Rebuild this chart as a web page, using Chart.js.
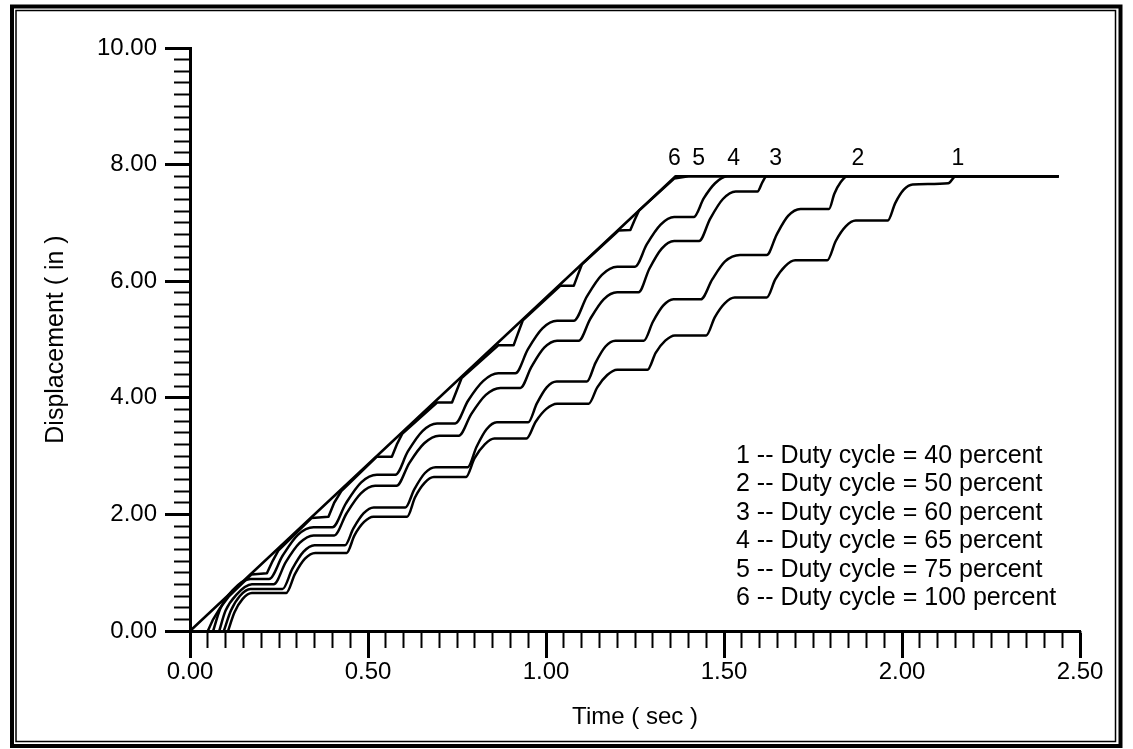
<!DOCTYPE html>
<html><head><meta charset="utf-8">
<script src="https://cdn.jsdelivr.net/npm/chart.js@4.4.1/dist/chart.umd.min.js"></script>
<style>html,body{margin:0;padding:0;background:#fff;}</style>
</head><body>
<canvas id="c" width="1133" height="749"></canvas>
<script>
// ---- data ----
const curveNumbers = ['1', '2', '3', '4', '5', '6'];
const dutyLabels = [
  '1 -- Duty cycle = 40 percent',
  '2 -- Duty cycle = 50 percent',
  '3 -- Duty cycle = 60 percent',
  '4 -- Duty cycle = 65 percent',
  '5 -- Duty cycle = 75 percent',
  '6 -- Duty cycle = 100 percent'
];
// [time (sec), displacement (in)]
const curve1 = [[0.107,0],[0.125,0.32],[0.148,0.55],[0.174,0.65],[0.27,0.65],[0.295,0.98],[0.323,1.24],[0.352,1.34],[0.44,1.34],[0.462,1.64],[0.489,1.87],[0.515,1.96],[0.61,1.96],[0.632,2.29],[0.659,2.54],[0.685,2.64],[0.775,2.64],[0.799,2.96],[0.828,3.20],[0.855,3.30],[0.945,3.30],[0.971,3.59],[1.001,3.81],[1.031,3.90],[1.12,3.90],[1.144,4.18],[1.172,4.39],[1.20,4.48],[1.285,4.48],[1.308,4.77],[1.335,4.98],[1.362,5.07],[1.45,5.07],[1.474,5.38],[1.502,5.62],[1.53,5.72],[1.62,5.72],[1.644,6.03],[1.672,6.26],[1.70,6.36],[1.79,6.36],[1.814,6.69],[1.842,6.94],[1.87,7.04],[1.96,7.04],[1.981,7.34],[2.005,7.57],[2.03,7.66],[2.13,7.68],[2.151,7.8],[2.44,7.8]];
const curve2 = [[0.095,0],[0.115,0.35],[0.14,0.6],[0.17,0.72],[0.26,0.72],[0.287,1.06],[0.319,1.36],[0.35,1.47],[0.435,1.47],[0.459,1.76],[0.488,2.02],[0.516,2.12],[0.605,2.12],[0.63,2.43],[0.66,2.71],[0.69,2.81],[0.78,2.81],[0.805,3.16],[0.833,3.46],[0.862,3.58],[0.95,3.58],[0.974,3.90],[1.002,4.18],[1.03,4.28],[1.115,4.28],[1.139,4.60],[1.167,4.88],[1.195,4.98],[1.275,4.98],[1.30,5.30],[1.329,5.58],[1.358,5.69],[1.435,5.69],[1.467,6.03],[1.503,6.34],[1.545,6.45],[1.62,6.45],[1.648,6.80],[1.68,7.12],[1.715,7.24],[1.795,7.24],[1.81,7.5],[1.828,7.7],[1.847,7.8],[2.44,7.8]];
const curve3 = [[0.082,0],[0.10,0.35],[0.13,0.62],[0.174,0.80],[0.235,0.80],[0.269,1.18],[0.308,1.51],[0.347,1.64],[0.405,1.64],[0.44,2.02],[0.48,2.36],[0.52,2.49],[0.58,2.49],[0.616,2.88],[0.658,3.22],[0.70,3.35],[0.755,3.35],[0.79,3.72],[0.831,4.05],[0.872,4.17],[0.928,4.17],[0.959,4.53],[0.995,4.86],[1.031,4.98],[1.092,4.98],[1.124,5.35],[1.162,5.69],[1.20,5.81],[1.26,5.81],[1.29,6.21],[1.325,6.56],[1.36,6.69],[1.43,6.69],[1.461,7.07],[1.497,7.41],[1.533,7.54],[1.594,7.54],[1.608,7.7],[1.62,7.8],[2.44,7.8]];
const curve4 = [[0.065,0],[0.085,0.38],[0.12,0.70],[0.17,0.89],[0.222,0.89],[0.26,1.29],[0.303,1.65],[0.347,1.78],[0.40,1.78],[0.438,2.19],[0.481,2.55],[0.525,2.68],[0.577,2.68],[0.612,3.08],[0.653,3.43],[0.694,3.56],[0.745,3.56],[0.781,3.95],[0.824,4.29],[0.866,4.42],[0.914,4.42],[0.949,4.83],[0.99,5.19],[1.031,5.32],[1.078,5.32],[1.115,5.74],[1.157,6.11],[1.20,6.25],[1.25,6.25],[1.283,6.63],[1.322,6.97],[1.36,7.10],[1.415,7.10],[1.443,7.42],[1.475,7.68],[1.509,7.8],[2.44,7.8]];
const curve5 = [[0.05,0],[0.065,0.2],[0.085,0.4],[0.11,0.6],[0.173,0.97],[0.216,0.99],[0.232,1.2],[0.248,1.38],[0.342,1.94],[0.389,1.96],[0.405,2.2],[0.425,2.4],[0.525,2.99],[0.567,2.99],[0.581,3.2],[0.596,3.38],[0.694,3.92],[0.736,3.92],[0.749,4.12],[0.763,4.34],[0.866,4.9],[0.909,4.9],[0.921,5.1],[0.935,5.33],[1.04,5.92],[1.078,5.92],[1.089,6.1],[1.101,6.29],[1.204,6.87],[1.237,6.88],[1.249,7.05],[1.261,7.21],[1.36,7.76],[1.40,7.8],[2.44,7.8]];
const curve6 = [[0,0],[1.364,7.8],[2.44,7.8]];
const curveLabelTimes = [2.157, 1.876, 1.645, 1.527, 1.429, 1.361];
const curves = [curve1, curve2, curve3, curve4, curve5, curve6];

// ---- chart ----
const FONT = "'Liberation Sans', Arial, Helvetica, sans-serif";
Chart.defaults.font.family = FONT;
Chart.defaults.color = '#000';

const framePlugin = {
  id: 'frame',
  afterDraw(chart) {
    const ctx = chart.ctx;
    ctx.save();
    ctx.strokeStyle = '#000';
    ctx.lineWidth = 4;
    ctx.strokeRect(12, 6.5, 1108.5, 739.5);
    ctx.lineWidth = 1.5;
    ctx.strokeRect(16, 10.5, 1099.5, 731);
    ctx.restore();
  }
};

const textPlugin = {
  id: 'texts',
  afterDatasetsDraw(chart) {
    const ctx = chart.ctx;
    const xs = chart.scales.x, ys = chart.scales.y;
    ctx.save();
    ctx.fillStyle = '#000';
    // curve numbers above the final plateau
    ctx.font = '23px ' + FONT;
    ctx.textAlign = 'center';
    ctx.textBaseline = 'alphabetic';
    curveNumbers.forEach((n, i) => {
      ctx.fillText(n, xs.getPixelForValue(curveLabelTimes[i]), ys.getPixelForValue(8.0));
    });
    // legend text block
    ctx.font = '25px ' + FONT;
    ctx.textAlign = 'left';
    ctx.textBaseline = 'middle';
    dutyLabels.forEach((t, i) => {
      ctx.fillText(t, 736, 456 + 28.5 * i);
    });
    ctx.restore();
  }
};

new Chart(document.getElementById('c'), {
  type: 'line',
  data: {
    datasets: curves.map((c, i) => ({
      label: dutyLabels[i],
      data: c.map(([x, y]) => ({x, y})),
      borderColor: '#000',
      borderWidth: 2.5,
      pointRadius: 0,
      fill: false,
      cubicInterpolationMode: i >= 4 ? 'default' : 'monotone',
      tension: 0,
      borderJoinStyle: 'round',
      clip: false
    }))
  },
  options: {
    responsive: false,
    animation: false,
    devicePixelRatio: 1,
    layout: { padding: { top: 48, right: 53, left: 0, bottom: 0 } },
    plugins: { legend: { display: false }, tooltip: { enabled: false } },
    scales: {
      x: {
        type: 'linear', position: 'bottom', weight: 1,
        min: 0, max: 2.5,
        afterFit: s => { s.height = 118; },
        border: { display: true, color: '#000', width: 3 },
        grid: { drawOnChartArea: false, drawTicks: true, tickLength: 27, tickWidth: 3, tickColor: '#000' },
        ticks: { stepSize: 0.5, padding: 0, color: '#000', font: { size: 24 }, maxRotation: 0, autoSkip: false,
                 callback: v => Number(v).toFixed(2) },
        title: { display: true, text: 'Time ( sec )', color: '#000', font: { size: 24 }, padding: { top: 0, bottom: 17 } }
      },
      x2: {
        type: 'linear', position: 'bottom', weight: 0,
        min: 0, max: 2.5,
        afterFit: s => { s.height = 0; },
        border: { display: false },
        grid: { drawOnChartArea: false, drawTicks: true, tickLength: 17, tickWidth: 2, tickColor: '#000' },
        ticks: { stepSize: 0.05, display: false, autoSkip: false }
      },
      y: {
        type: 'linear', position: 'left', weight: 1,
        min: 0, max: 10,
        afterFit: s => { s.width = 190; },
        border: { display: true, color: '#000', width: 3 },
        grid: { drawOnChartArea: false, drawTicks: true, tickLength: 25, tickWidth: 3, tickColor: '#000' },
        ticks: { stepSize: 2, padding: 8, color: '#000', font: { size: 24 }, autoSkip: false,
                 callback: v => Number(v).toFixed(2) },
        title: { display: true, text: 'Displacement ( in )', color: '#000', font: { size: 25 }, padding: { top: 41, bottom: 0 } }
      },
      y2: {
        type: 'linear', position: 'left', weight: 0,
        min: 0, max: 10,
        afterFit: s => { s.width = 0; },
        border: { display: false },
        grid: { drawOnChartArea: false, drawTicks: true, tickLength: 16, tickWidth: 2, tickColor: '#000' },
        ticks: { stepSize: 0.2, display: false, autoSkip: false }
      }
    }
  },
  plugins: [framePlugin, textPlugin]
});
</script>
</body></html>
